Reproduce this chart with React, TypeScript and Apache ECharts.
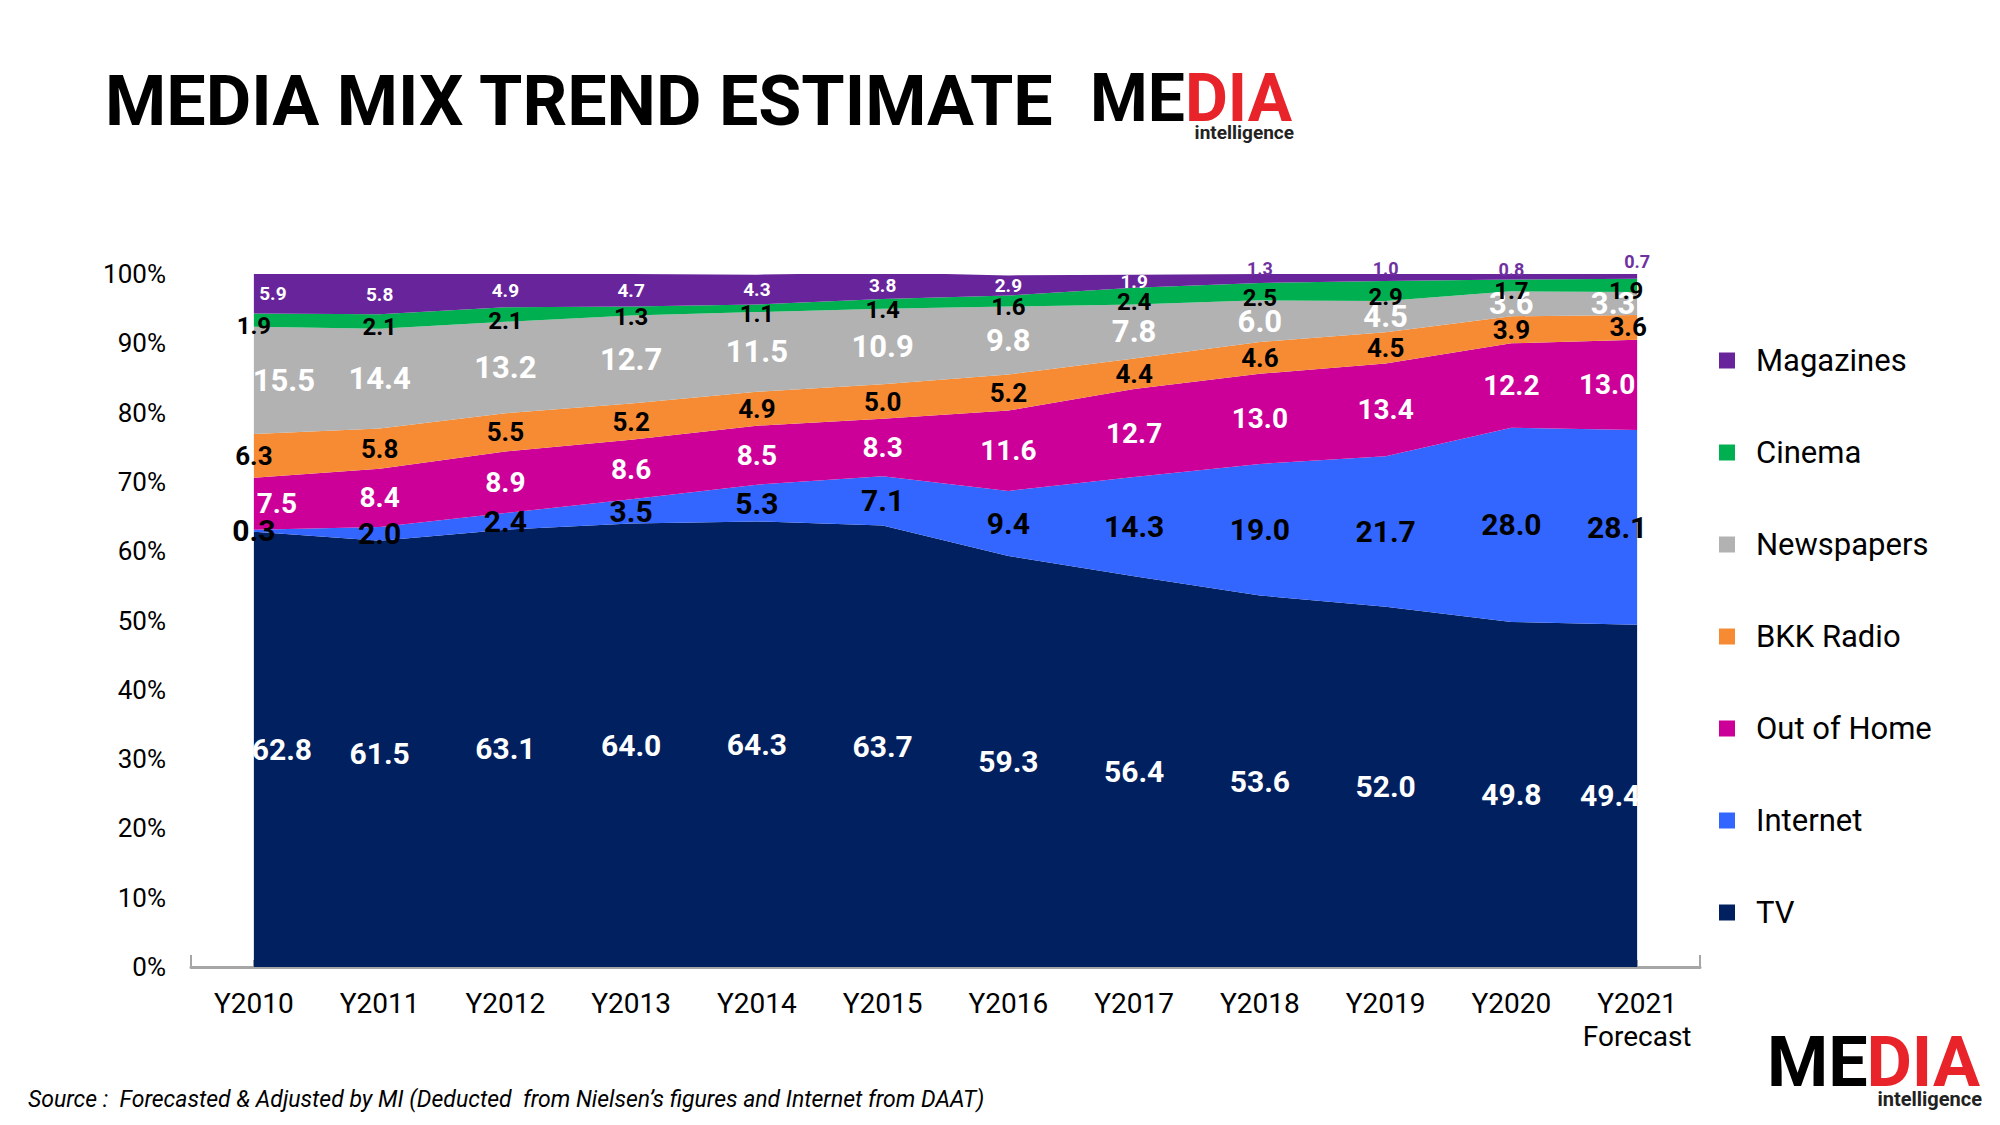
import React, { useEffect, useRef } from "react";
import * as echarts from "echarts";

const categories = ["Y2010", "Y2011", "Y2012", "Y2013", "Y2014", "Y2015", "Y2016", "Y2017", "Y2018", "Y2019", "Y2020", "Y2021\nForecast"];
const tv = [62.8, 61.5, 63.1, 64.0, 64.3, 63.7, 59.3, 56.4, 53.6, 52.0, 49.8, 49.4];
const internet = [0.3, 2.0, 2.4, 3.5, 5.3, 7.1, 9.4, 14.3, 19.0, 21.7, 28.0, 28.1];
const outOfHome = [7.5, 8.4, 8.9, 8.6, 8.5, 8.3, 11.6, 12.7, 13.0, 13.4, 12.2, 13.0];
const bkkRadio = [6.3, 5.8, 5.5, 5.2, 4.9, 5.0, 5.2, 4.4, 4.6, 4.5, 3.9, 3.6];
const newspapers = [15.5, 14.4, 13.2, 12.7, 11.5, 10.9, 9.8, 7.8, 6.0, 4.5, 3.6, 3.3];
const cinema = [1.9, 2.1, 2.1, 1.3, 1.1, 1.4, 1.6, 2.4, 2.5, 2.9, 1.7, 1.9];
const magazines = [5.9, 5.8, 4.9, 4.7, 4.3, 3.8, 2.9, 1.9, 1.3, 1.0, 0.8, 0.7];
const yTicks = [0, 10, 20, 30, 40, 50, 60, 70, 80, 90, 100];

const seriesNames = ["TV", "Internet", "Out of Home", "BKK Radio", "Newspapers", "Cinema", "Magazines"];
const seriesValues = [tv, internet, outOfHome, bkkRadio, newspapers, cinema, magazines];
const seriesColors = ["#002060", "#3366FF", "#CC0099", "#F68B33", "#B2B2B2", "#00B050", "#68259B"];
const legendOrder = ["Magazines", "Cinema", "Newspapers", "BKK Radio", "Out of Home", "Internet", "TV"];

const FONT = "Roboto, 'Noto Sans', sans-serif";

// label style per series: [color, fontSize]
const labelStyles: [string, number][] = [
  ["#ffffff", 30],
  ["#000000", 30],
  ["#ffffff", 28],
  ["#000000", 26],
  ["#ffffff", 31],
  ["#000000", 24],
  ["#ffffff", 19],
];
// label tweaks: "series:col" -> { dx, dy, color, size }
const labelTweaks: Record<string, { dx?: number; dy?: number; color?: string; size?: number }> = {
  "0:0": { dx: 28 }, "2:0": { dx: 23 }, "4:0": { dx: 30 }, "6:0": { dx: 19 },
  "0:11": { dx: -27 }, "1:11": { dx: -20 }, "2:11": { dx: -30 }, "3:11": { dx: -9 },
  "4:11": { dx: -24 }, "5:11": { dx: -11 },
  "6:8": { dy: -10, color: "#7030A0", size: 18 },
  "6:9": { dy: -9, color: "#7030A0", size: 18 },
  "6:10": { dy: -7, color: "#7030A0", size: 18 },
  "6:11": { dy: -15, color: "#7030A0", size: 18 },
};

function logo(left: number, right: number, cy: number, size: number, subY: number, subSize: number) {
  const lh = Math.round(size * 0.72);
  return [
    { type: "text", x: left, y: cy, style: { text: "ME", fill: "#000", font: `bold ${size}px ${FONT}`, lineHeight: lh, textAlign: "left", textVerticalAlign: "middle" } },
    { type: "text", x: right, y: cy, style: { text: "DIA", fill: "#E8232A", font: `bold ${size}px ${FONT}`, lineHeight: lh, textAlign: "right", textVerticalAlign: "middle" } },
    { type: "text", x: right + 2, y: subY, style: { text: "intelligence", fill: "#222", font: `bold ${subSize}px ${FONT}`, textAlign: "right", textVerticalAlign: "middle" } },
  ];
}

export default function App() {
  const ref = useRef<HTMLDivElement>(null);
  useEffect(() => {
    const chart = echarts.init(ref.current!, null, { renderer: "svg" });

    const labelData: any[] = [];
    categories.forEach((_, col) => {
      let base = 0;
      seriesValues.forEach((vals, s) => {
        const v = vals[col];
        const mid = base + v / 2;
        base += v;
        const t = labelTweaks[s + ":" + col] || {};
        const dy = (t.dy || 0) + (s === 5 ? 6 : 0);
        labelData.push({
          value: [col, mid],
          label: {
            show: true,
            position: "inside",
            formatter: v.toFixed(1),
            color: t.color || labelStyles[s][0],
            opacity: 1,
            fontSize: t.size || labelStyles[s][1],
            fontWeight: "bold",
            fontFamily: FONT,
            textBorderWidth: 0,
            textBorderColor: "transparent",
            textShadowBlur: 0,
            offset: [t.dx || 0, dy],
          },
        });
      });
    });

    const option: any = {
      animation: false,
      backgroundColor: "#ffffff",
      grid: { left: 191, right: 300, top: 274, bottom: 158, containLabel: false },
      legend: {
        orient: "vertical",
        left: 1714,
        top: 340,
        data: legendOrder,
        icon: "rect",
        itemWidth: 16,
        itemHeight: 16,
        itemGap: 61,
        selectedMode: false,
        textStyle: { fontSize: 31, fontFamily: FONT, color: "#000", lineHeight: 30, padding: [0, 0, 0, 16] },
      },
      xAxis: [
        {
          type: "category",
          data: categories,
          boundaryGap: true,
          axisLine: { show: true, lineStyle: { color: "#A6A6A6", width: 3 } },
          axisTick: { show: true, inside: true, length: 12, interval: 0, lineStyle: { color: "#A6A6A6", width: 2 } },
          axisLabel: { color: "#000", fontSize: 28, fontFamily: FONT, margin: 20, lineHeight: 33, interval: 0 },
          splitLine: { show: false },
        },
        {
          type: "category",
          data: categories,
          boundaryGap: true,
          position: "bottom",
          axisLine: { show: false },
          axisTick: { show: true, inside: true, length: 7, alignWithLabel: true, interval: 0, lineStyle: { color: "#A6A6A6", width: 2 } },
          axisLabel: { show: false },
          splitLine: { show: false },
        },
      ],
      yAxis: {
        type: "value",
        min: yTicks[0],
        max: yTicks[yTicks.length - 1],
        interval: 10,
        axisLine: { show: false },
        axisTick: { show: false },
        splitLine: { show: false },
        axisLabel: { formatter: "{value}%", color: "#000", fontSize: 26, fontFamily: FONT, margin: 25 },
      },
      series: [
        ...seriesNames.map((name, i) => ({
          name,
          type: "line",
          stack: "total",
          data: seriesValues[i],
          color: seriesColors[i],
          symbol: "none",
          showSymbol: false,
          lineStyle: { width: 0, color: seriesColors[i] },
          areaStyle: { color: seriesColors[i], opacity: 1 },
          itemStyle: { color: seriesColors[i] },
          silent: true,
          z: 2,
        })),
        {
          name: "labels",
          type: "scatter",
          data: labelData,
          symbolSize: 1,
          silent: true,
          z: 5,
          itemStyle: { color: "rgba(0,0,0,0)", opacity: 1 },
          emphasis: { disabled: true },
        },
      ],
      graphic: [
        {
          type: "text",
          x: 105,
          y: 101,
          style: { text: "MEDIA MIX TREND ESTIMATE", fill: "#000", font: `bold 70px ${FONT}`, textVerticalAlign: "middle" },
        },
        ...logo(1090, 1292, 98, 66, 132, 19),
        ...logo(1767, 1980, 1062, 70, 1099, 20),
        {
          type: "text",
          x: 28,
          y: 1099,
          style: {
            text: "Source :  Forecasted & Adjusted by MI (Deducted  from Nielsen\u2019s figures and Internet from DAAT)",
            fill: "#000",
            font: `italic 23px ${FONT}`,
            textVerticalAlign: "middle",
          },
        },
      ],
    };
    chart.setOption(option);
    return () => chart.dispose();
  }, []);
  return <div ref={ref} style={{ position: "fixed", left: 0, top: 0, width: 2000, height: 1125 }} />;
}
